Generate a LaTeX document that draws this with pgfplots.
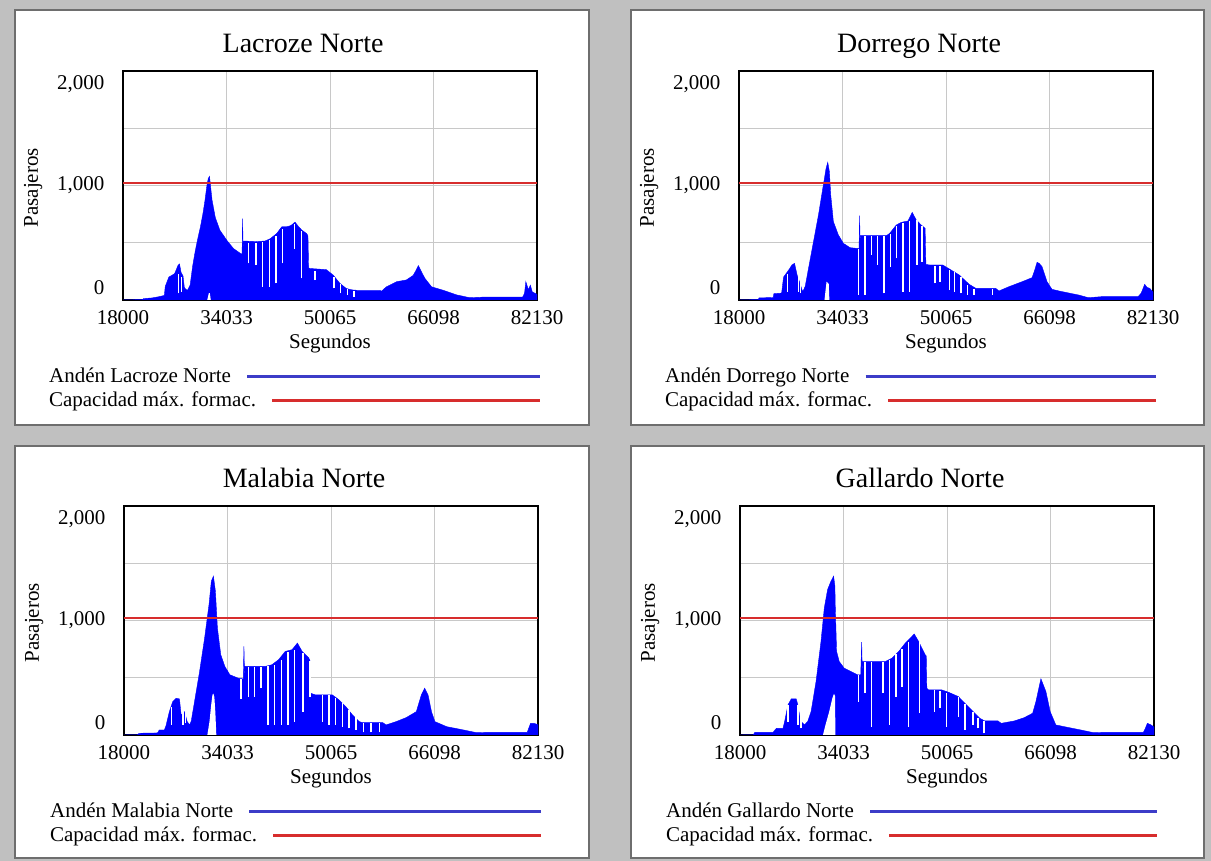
\documentclass[border=0pt]{standalone}
\usepackage{fontspec}
\setmainfont{Liberation Serif}
\usepackage{pgfplots}
\pgfplotsset{compat=1.18}
\definecolor{bgray}{RGB}{192,192,192}
\definecolor{pborder}{RGB}{110,110,110}
\definecolor{vblue}{RGB}{0,0,255}
\definecolor{vred}{RGB}{215,45,45}
\definecolor{legblue}{RGB}{60,60,200}
\definecolor{gridc}{RGB}{200,200,200}

\newlength\legw
\newlength\legl
\newcommand{\legline}[2]{\settowidth{\legw}{#1}\setlength{\legl}{\dimexpr 475pt-\legw\relax}#1\hspace{15pt}\tikz[baseline=0pt]\draw[draw=#2, line width=2.3pt] (0pt,6.5pt) -- (\the\legl,6.5pt);}

\pgfplotsset{
 panel/.style={
  scale only axis, width=414pt, height=229pt,
  xmin=18000, xmax=82130, ymin=0, ymax=2000,
  xtick={18000,34033,50065,66098,82130},
  xticklabels={18000,34033,50065,66098,82130},
  ytick={0,500,1000,1500,2000},
  yticklabels={{\raisebox{12pt}[\height][\depth]{0}},{},{1,000},{},{\raisebox{-13pt}[\height][\depth]{2,000}}},
  scaled ticks=false,
  major tick length=0pt,
  grid=major, grid style={gridc, line width=0.9pt},
  axis line style={black, line width=2.2pt},
  tick label style={font=\fontsize{21}{24}\selectfont},
  yticklabel style={xshift=-15pt},
  xticklabel style={yshift=-7pt},
  label style={font=\fontsize{21}{24}\selectfont},
  xlabel={Segundos}, ylabel={Pasajeros},
  xlabel style={at={(axis description cs:0.5,-0.19)}, anchor=center},
  ylabel style={at={(axis description cs:-0.217,0.49)}, anchor=center},
  title style={at={(axis description cs:0.435,1)}, anchor=base, yshift=12pt, font=\fontsize{28}{32}\selectfont},
  legend plot pos=none,
  legend cell align=left,
  legend style={at={(axis description cs:-0.179,-0.288)}, anchor=north west, draw=none, fill=none, inner sep=0pt,
    font=\fontsize{21}{24}\selectfont, row sep=2pt, nodes={inner sep=0pt, text height=16.8pt, text depth=5.2pt}},
 },
 blue area/.style={fill=vblue, draw=vblue, line width=0.4pt},
 lower area/.style={fill=white, draw=none, forget plot},
 gaps/.style={white, line width=1.4pt, forget plot, unbounded coords=jump},
 cap/.style={vred, line width=1.7pt},
}

\begin{document}
\begin{tikzpicture}[x=1pt,y=1pt]
\fill[bgray] (0,0) rectangle (1211,861);
\filldraw[fill=white, draw=pborder, line width=1.5pt] (15,436) rectangle (589,851);
\filldraw[fill=white, draw=pborder, line width=1.5pt] (631,436) rectangle (1204,851);
\filldraw[fill=white, draw=pborder, line width=1.5pt] (15,3) rectangle (589,415);
\filldraw[fill=white, draw=pborder, line width=1.5pt] (631,3) rectangle (1204,415);

% ---------------- Lacroze Norte ----------------
\begin{axis}[panel, at={(123pt,561pt)}, anchor=south west, title={Lacroze Norte}]
\addplot[blue area] table {
x y
18000 0
21000 4
21200 12
22500 18
23500 28
24400 40
24550 120
24900 170
25100 200
26000 230
26500 300
26750 315
27000 240
27300 210
27500 110
27700 95
28000 85
28400 130
28800 300
29200 430
29600 540
30000 640
30400 760
30700 870
31000 1000
31200 1060
31400 1080
31550 1000
31800 870
32300 720
33000 610
34100 520
35100 450
36100 410
36450 400
36520 710
36620 420
36700 515
38700 510
40000 515
40800 535
41800 580
42600 640
43400 640
44000 650
44650 680
45200 640
45700 610
46450 580
46650 560
46750 280
47000 275
49500 265
50600 215
51600 145
52600 100
53500 88
54200 85
57800 85
58000 75
58800 115
60400 160
61900 175
62950 215
63400 260
63750 300
64200 250
64750 190
65800 115
67600 85
69650 45
71700 20
73800 25
79900 25
80200 60
80400 160
80800 90
81100 130
81400 70
82130 50
} \closedcycle;
\addlegendentry{\legline{Andén Lacroze Norte}{legblue}}
\addplot[lower area] coordinates {(31050,0) (31300,60) (31450,60) (31600,0)} \closedcycle;
\addplot[gaps] coordinates {
(26609,58) (26609,225) (26609,nan)
(27021,72) (27021,200) (27021,nan)
(37434,319) (37434,500) (37434,nan)
(38620,304) (38620,500) (38620,nan)
(39651,116) (39651,505) (39651,nan)
(40682,116) (40682,520) (40682,nan)
(41713,145) (41713,560) (41713,nan)
(42744,319) (42744,620) (42744,nan)
(44548,449) (44548,665) (44548,nan)
(45683,188) (45683,605) (45683,nan)
(47745,174) (47745,255) (47745,nan)
(50683,101) (50683,205) (50683,nan)
(51714,58) (51714,140) (51714,nan)
(52745,43) (52745,95) (52745,nan)
(53776,29) (53776,82)
};
\addplot[cap] coordinates {(18000,1020) (82130,1020)};
\addlegendentry{\legline{Capacidad máx. formac.}{vred}}
\end{axis}

% ---------------- Dorrego Norte ----------------
\begin{axis}[panel, at={(739pt,561pt)}, anchor=south west, title={Dorrego Norte}]
\addplot[blue area] table {
x y
18000 0
21000 4
21100 18
23300 22
23400 55
24600 60
24900 200
25700 262
26200 306
26600 320
27000 218
27250 180
27750 90
27900 75
28260 120
28770 277
29540 509
30310 742
30980 975
31490 1150
31750 1202
32000 1121
32210 917
32620 684
33390 568
34160 495
35190 457
36210 451
36600 450
36680 736
36780 460
36830 562
40830 562
41340 582
42370 655
43140 678
44160 690
44830 765
45450 699
46220 655
46830 626
46950 311
47500 306
49550 306
50580 271
52120 218
53650 137
54680 102
57760 102
58270 79
59810 116
61860 160
63400 195
63800 260
64170 329
64500 320
64940 291
65710 160
66480 93
68020 73
70580 44
72120 20
74170 29
79820 29
80300 60
80840 137
81200 110
81610 102
82130 70
} \closedcycle;
\addlegendentry{\legline{Andén Dorrego Norte}{legblue}}
\addplot[lower area] coordinates {(31240,0) (31560,160) (31900,140) (32000,0)} \closedcycle;
\addplot[gaps] coordinates {
(25541,73) (25541,230) (25541,nan)
(27234,73) (27234,215) (27234,nan)
(27490,58) (27490,185) (27490,nan)
(36468,44) (36468,445) (36468,nan)
(37494,44) (37494,555) (37494,nan)
(38520,393) (38520,555) (38520,nan)
(39443,306) (39443,555) (39443,nan)
(40469,58) (40469,555) (40469,nan)
(41495,291) (41495,575) (41495,nan)
(42368,364) (42368,645) (42368,nan)
(43394,73) (43394,670) (43394,nan)
(44420,73) (44420,690) (44420,nan)
(45549,306) (45549,695) (45549,nan)
(46370,335) (46370,650) (46370,nan)
(48370,146) (48370,300) (48370,nan)
(49139,160) (49139,300) (49139,nan)
(50576,87) (50576,265) (50576,nan)
(51345,73) (51345,245) (51345,nan)
(52371,58) (52371,205) (52371,nan)
(53397,44) (53397,135) (53397,nan)
(54423,44) (54423,100) (54423,nan)
(57245,44) (57245,96)
};
\addplot[cap] coordinates {(18000,1020) (82130,1020)};
\addlegendentry{\legline{Capacidad máx. formac.}{vred}}
\end{axis}

% ---------------- Malabia Norte ----------------
\begin{axis}[panel, at={(124pt,126pt)}, anchor=south west, title={Malabia Norte}]
\addplot[blue area] table {
x y
18000 0
20080 2
20340 15
23200 18
23460 44
24250 44
24500 80
25030 204
25550 292
26070 321
26590 315
26850 175
27370 204
27790 117
28150 88
28410 120
28930 292
29710 555
30490 847
31170 1139
31530 1343
31850 1387
32160 1256
32310 1100
32470 934
32990 701
33620 599
34400 526
35700 496
36480 490
36580 774
36680 500
36740 599
39860 599
40900 613
41940 657
42980 730
44030 745
44860 803
45590 730
46630 672
46800 650
46890 365
47670 350
50270 350
51310 307
52350 248
53390 175
54440 117
54960 108
58080 108
58600 88
60160 117
61720 152
63280 204
64060 350
64580 409
65100 350
65630 204
66150 117
67970 73
70570 44
72650 20
74210 23
80460 23
80700 60
80980 102
81500 102
82130 90
} \closedcycle;
\addlegendentry{\legline{Andén Malabia Norte}{legblue}}
\addplot[lower area] coordinates {(30910,0) (31250,120) (31500,260) (31700,350) (31850,362) (32000,330) (32150,200) (32300,0)} \closedcycle;
\addplot[gaps] coordinates {
(25391,88) (25391,245) (25391,nan)
(27109,88) (27109,200) (27109,nan)
(27525,102) (27525,200) (27525,nan)
(36113,315) (36113,490) (36113,nan)
(37259,336) (37259,595) (37259,nan)
(38195,336) (38195,595) (38195,nan)
(39236,409) (39236,595) (39236,nan)
(40277,88) (40277,600) (40277,nan)
(41318,88) (41318,613) (41318,nan)
(42359,88) (42359,655) (42359,nan)
(43400,88) (43400,728) (43400,nan)
(44441,117) (44441,745) (44441,nan)
(45743,204) (45743,715) (45743,nan)
(46784,336) (46784,650) (46784,nan)
(48710,117) (48710,348) (48710,nan)
(49751,88) (49751,345) (49751,nan)
(50792,88) (50792,321) (50792,nan)
(51833,73) (51833,277) (51833,nan)
(52874,58) (52874,215) (52874,nan)
(53915,44) (53915,160) (53915,nan)
(55060,23) (55060,105) (55060,nan)
(56257,23) (56257,105) (56257,nan)
(57558,23) (57558,105)
};
\addplot[cap] coordinates {(18000,1020) (82130,1020)};
\addlegendentry{\legline{Capacidad máx. formac.}{vred}}
\end{axis}

% ---------------- Gallardo Norte ----------------
\begin{axis}[panel, at={(740pt,126pt)}, anchor=south west, title={Gallardo Norte}]
\addplot[blue area] table {
x y
18000 0
20050 2
20300 23
23120 23
23630 58
24660 58
24920 120
25430 263
25940 315
26710 315
26960 263
27220 175
27480 117
27990 88
28500 120
29010 204
29780 467
30550 818
31060 1110
31570 1270
32090 1343
32500 1387
32700 1300
32750 1139
32960 730
33370 642
34130 584
35160 555
36180 526
36700 526
36850 812
36950 526
37000 642
40540 642
41560 672
42590 730
43610 803
44380 847
44990 882
45660 818
46680 701
46850 690
46940 409
47200 394
49240 394
50270 374
51810 336
52830 277
54110 204
55140 146
55900 123
57950 123
58460 102
60510 123
62050 152
63330 190
63840 292
64610 491
65380 380
66050 204
66920 88
68200 73
70760 44
72810 20
74340 23
80490 23
80800 60
81100 102
81600 90
82130 70
} \closedcycle;
\addlegendentry{\legline{Andén Gallardo Norte}{legblue}}
\addplot[lower area] coordinates {(30850,0) (31300,100) (31800,200) (32300,320) (32550,360) (32720,340) (32780,0)} \closedcycle;
\addplot[gaps] coordinates {
(25427,117) (25427,260) (25427,nan)
(26964,88) (26964,260) (26964,nan)
(27476,58) (27476,170) (27476,nan)
(36337,292) (36337,520) (36337,nan)
(37361,365) (37361,640) (37361,nan)
(38386,73) (38386,640) (38386,nan)
(40127,365) (40127,640) (40127,nan)
(41151,88) (41151,655) (41151,nan)
(42176,336) (42176,705) (42176,nan)
(43098,423) (43098,755) (43098,nan)
(44122,73) (44122,815) (44122,nan)
(45761,190) (45761,815) (45761,nan)
(48117,204) (48117,390) (48117,nan)
(48988,234) (48988,380) (48988,nan)
(50012,73) (50012,370) (50012,nan)
(51805,161) (51805,330) (51805,nan)
(52830,44) (52830,275) (52830,nan)
(54110,88) (54110,200) (54110,nan)
(54878,58) (54878,145) (54878,nan)
(55801,15) (55801,120)
};
\addplot[cap] coordinates {(18000,1020) (82130,1020)};
\addlegendentry{\legline{Capacidad máx. formac.}{vred}}
\end{axis}

\pgfresetboundingbox
\useasboundingbox (0,0) rectangle (1211,861);
\end{tikzpicture}
\end{document}
